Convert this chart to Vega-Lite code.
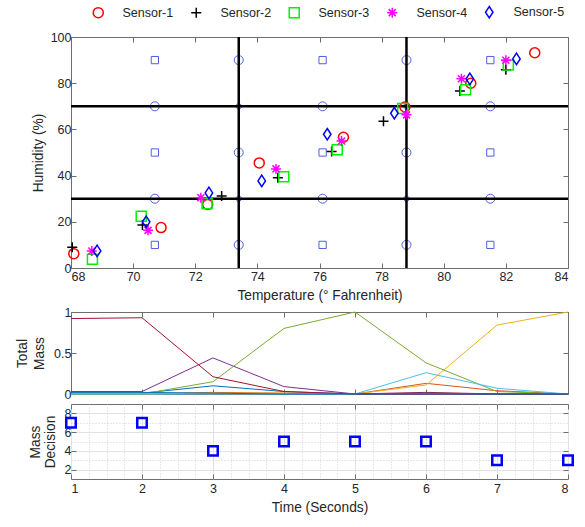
{
  "$schema": "https://vega.github.io/schema/vega-lite/v6.json",
  "padding": {"left": 15, "top": 5, "right": 5, "bottom": 5},
  "background": "white",
  "spacing": 2,
  "config": {
    "font": "Liberation Sans",
    "view": {"stroke": "#6e6e6e", "strokeWidth": 1},
    "axis": {
      "domain": false,
      "tickColor": "#6e6e6e",
      "tickSize": -5,
      "labelFontSize": 12.5,
      "labelColor": "#262626",
      "titleFontSize": 13.75,
      "titleFontWeight": "normal",
      "titleColor": "#262626",
      "grid": false
    }
  },
  "resolve": {"scale": {"color": "independent", "shape": "independent"}},
  "datasets": {
    "sensors": [
      {"sensor": "Sensor-1", "temp": 68.09, "hum": 6.2},
      {"sensor": "Sensor-1", "temp": 70.9, "hum": 17.5},
      {"sensor": "Sensor-1", "temp": 72.4, "hum": 27.5},
      {"sensor": "Sensor-1", "temp": 74.06, "hum": 45.5},
      {"sensor": "Sensor-1", "temp": 76.77, "hum": 56.6},
      {"sensor": "Sensor-1", "temp": 78.75, "hum": 69.7},
      {"sensor": "Sensor-1", "temp": 80.87, "hum": 80.0},
      {"sensor": "Sensor-1", "temp": 82.93, "hum": 93.2},
      {"sensor": "Sensor-2", "temp": 68.04, "hum": 9.0},
      {"sensor": "Sensor-2", "temp": 70.3, "hum": 18.6},
      {"sensor": "Sensor-2", "temp": 72.85, "hum": 31.2},
      {"sensor": "Sensor-2", "temp": 74.66, "hum": 39.1},
      {"sensor": "Sensor-2", "temp": 76.39, "hum": 50.4},
      {"sensor": "Sensor-2", "temp": 78.06, "hum": 63.5},
      {"sensor": "Sensor-2", "temp": 80.52, "hum": 76.6},
      {"sensor": "Sensor-2", "temp": 82.0, "hum": 85.8},
      {"sensor": "Sensor-3", "temp": 68.69, "hum": 3.8},
      {"sensor": "Sensor-3", "temp": 70.26, "hum": 22.4},
      {"sensor": "Sensor-3", "temp": 72.38, "hum": 27.8},
      {"sensor": "Sensor-3", "temp": 74.85, "hum": 39.5},
      {"sensor": "Sensor-3", "temp": 76.57, "hum": 51.2},
      {"sensor": "Sensor-3", "temp": 78.68, "hum": 69.0},
      {"sensor": "Sensor-3", "temp": 80.7, "hum": 77.2},
      {"sensor": "Sensor-3", "temp": 82.08, "hum": 87.9},
      {"sensor": "Sensor-4", "temp": 68.67, "hum": 7.4},
      {"sensor": "Sensor-4", "temp": 70.48, "hum": 16.3},
      {"sensor": "Sensor-4", "temp": 72.18, "hum": 30.4},
      {"sensor": "Sensor-4", "temp": 74.6, "hum": 42.9},
      {"sensor": "Sensor-4", "temp": 76.71, "hum": 55.0},
      {"sensor": "Sensor-4", "temp": 78.8, "hum": 66.3},
      {"sensor": "Sensor-4", "temp": 80.57, "hum": 81.9},
      {"sensor": "Sensor-4", "temp": 82.0, "hum": 89.9},
      {"sensor": "Sensor-5", "temp": 68.84, "hum": 7.4},
      {"sensor": "Sensor-5", "temp": 70.42, "hum": 20.0},
      {"sensor": "Sensor-5", "temp": 72.44, "hum": 32.5},
      {"sensor": "Sensor-5", "temp": 74.14, "hum": 37.7},
      {"sensor": "Sensor-5", "temp": 76.25, "hum": 57.9},
      {"sensor": "Sensor-5", "temp": 78.41, "hum": 67.0},
      {"sensor": "Sensor-5", "temp": 80.84, "hum": 81.9},
      {"sensor": "Sensor-5", "temp": 82.34, "hum": 90.5}
    ],
    "grid": [
      {"gx": 70.7, "gy": 90, "m": "square"}, {"gx": 70.7, "gy": 70, "m": "circle"}, {"gx": 70.7, "gy": 50, "m": "square"}, {"gx": 70.7, "gy": 30, "m": "circle"}, {"gx": 70.7, "gy": 10, "m": "square"},
      {"gx": 73.4, "gy": 90, "m": "circle"}, {"gx": 73.4, "gy": 70, "m": "diamond"}, {"gx": 73.4, "gy": 50, "m": "circle"}, {"gx": 73.4, "gy": 30, "m": "diamond"}, {"gx": 73.4, "gy": 10, "m": "circle"},
      {"gx": 76.1, "gy": 90, "m": "square"}, {"gx": 76.1, "gy": 70, "m": "circle"}, {"gx": 76.1, "gy": 50, "m": "square"}, {"gx": 76.1, "gy": 30, "m": "circle"}, {"gx": 76.1, "gy": 10, "m": "square"},
      {"gx": 78.8, "gy": 90, "m": "circle"}, {"gx": 78.8, "gy": 70, "m": "diamond"}, {"gx": 78.8, "gy": 50, "m": "circle"}, {"gx": 78.8, "gy": 30, "m": "diamond"}, {"gx": 78.8, "gy": 10, "m": "circle"},
      {"gx": 81.5, "gy": 90, "m": "square"}, {"gx": 81.5, "gy": 70, "m": "circle"}, {"gx": 81.5, "gy": 50, "m": "square"}, {"gx": 81.5, "gy": 30, "m": "circle"}, {"gx": 81.5, "gy": 10, "m": "square"}
    ],
    "vlines": [{"vx": 73.4}, {"vx": 78.8}],
    "hlines": [{"hy": 30}, {"hy": 70}],
    "mass": [
      {"c": "1", "t": 1, "m": 0.01}, {"c": "1", "t": 2, "m": 0.01}, {"c": "1", "t": 3, "m": 0.10}, {"c": "1", "t": 4, "m": 0.03}, {"c": "1", "t": 5, "m": 0.0}, {"c": "1", "t": 6, "m": 0.0}, {"c": "1", "t": 7, "m": 0.0}, {"c": "1", "t": 8, "m": 0.0},
      {"c": "2", "t": 1, "m": 0.0}, {"c": "2", "t": 2, "m": 0.0}, {"c": "2", "t": 3, "m": 0.02}, {"c": "2", "t": 4, "m": 0.01}, {"c": "2", "t": 5, "m": 0.0}, {"c": "2", "t": 6, "m": 0.13}, {"c": "2", "t": 7, "m": 0.04}, {"c": "2", "t": 8, "m": 0.0},
      {"c": "3", "t": 1, "m": 0.0}, {"c": "3", "t": 2, "m": 0.0}, {"c": "3", "t": 3, "m": 0.01}, {"c": "3", "t": 4, "m": 0.01}, {"c": "3", "t": 5, "m": 0.0}, {"c": "3", "t": 6, "m": 0.11}, {"c": "3", "t": 7, "m": 0.84}, {"c": "3", "t": 8, "m": 1.0},
      {"c": "4", "t": 1, "m": 0.03}, {"c": "4", "t": 2, "m": 0.03}, {"c": "4", "t": 3, "m": 0.44}, {"c": "4", "t": 4, "m": 0.09}, {"c": "4", "t": 5, "m": 0.0}, {"c": "4", "t": 6, "m": 0.0}, {"c": "4", "t": 7, "m": 0.0}, {"c": "4", "t": 8, "m": 0.0},
      {"c": "5", "t": 1, "m": 0.0}, {"c": "5", "t": 2, "m": 0.0}, {"c": "5", "t": 3, "m": 0.15}, {"c": "5", "t": 4, "m": 0.80}, {"c": "5", "t": 5, "m": 1.0}, {"c": "5", "t": 6, "m": 0.38}, {"c": "5", "t": 7, "m": 0.03}, {"c": "5", "t": 8, "m": 0.0},
      {"c": "6", "t": 1, "m": 0.0}, {"c": "6", "t": 2, "m": 0.0}, {"c": "6", "t": 3, "m": 0.0}, {"c": "6", "t": 4, "m": 0.0}, {"c": "6", "t": 5, "m": 0.0}, {"c": "6", "t": 6, "m": 0.26}, {"c": "6", "t": 7, "m": 0.07}, {"c": "6", "t": 8, "m": 0.0},
      {"c": "7", "t": 1, "m": 0.92}, {"c": "7", "t": 2, "m": 0.93}, {"c": "7", "t": 3, "m": 0.21}, {"c": "7", "t": 4, "m": 0.03}, {"c": "7", "t": 5, "m": 0.0}, {"c": "7", "t": 6, "m": 0.02}, {"c": "7", "t": 7, "m": 0.0}, {"c": "7", "t": 8, "m": 0.0},
      {"c": "8", "t": 1, "m": 0.02}, {"c": "8", "t": 2, "m": 0.02}, {"c": "8", "t": 3, "m": 0.01}, {"c": "8", "t": 4, "m": 0.0}, {"c": "8", "t": 5, "m": 0.0}, {"c": "8", "t": 6, "m": 0.01}, {"c": "8", "t": 7, "m": 0.0}, {"c": "8", "t": 8, "m": 0.0}
    ],
    "decision": [
      {"t": 1, "d": 7}, {"t": 2, "d": 7}, {"t": 3, "d": 4}, {"t": 4, "d": 5},
      {"t": 5, "d": 5}, {"t": 6, "d": 5}, {"t": 7, "d": 3}, {"t": 8, "d": 3}
    ]
  },
  "vconcat": [
    {
      "width": 497,
      "height": 231,
      "layer": [
        {
          "data": {"name": "grid"},
          "transform": [{"filter": "datum.m === 'square'"}],
          "mark": {"type": "point", "shape": "square", "size": 53, "color": "#4f5fdc", "strokeWidth": 1, "filled": false, "opacity": 1},
          "encoding": {
            "x": {"field": "gx", "type": "quantitative", "scale": {"domain": [68, 84], "nice": false, "zero": false},
                  "axis": {"orient": "bottom", "values": [68, 70, 72, 74, 76, 78, 80, 82, 84], "labelPadding": 7, "titlePadding": 6, "title": "Temperature (° Fahrenheit)"}},
            "y": {"field": "gy", "type": "quantitative", "scale": {"domain": [0, 100], "nice": false},
                  "axis": {"orient": "left", "values": [0, 20, 40, 60, 80, 100], "labelPadding": 5, "titlePadding": 5, "title": "Humidity (%)"}}
          }
        },
        {
          "data": {"name": "grid"},
          "transform": [{"filter": "datum.m === 'circle'"}],
          "mark": {"type": "point", "shape": "circle", "size": 81, "color": "#4f5fdc", "strokeWidth": 1, "filled": false, "opacity": 1},
          "encoding": {
            "x": {"field": "gx", "type": "quantitative", "axis": {"orient": "top", "values": [68, 70, 72, 74, 76, 78, 80, 82, 84], "labels": false, "title": null, "minExtent": 0}},
            "y": {"field": "gy", "type": "quantitative", "axis": {"orient": "right", "values": [0, 20, 40, 60, 80, 100], "labels": false, "title": null, "minExtent": 0}}
          }
        },
        {
          "data": {"name": "grid"},
          "transform": [{"filter": "datum.m === 'diamond'"}],
          "mark": {"type": "point", "shape": "diamond", "size": 53, "color": "#4f5fdc", "strokeWidth": 1, "filled": false, "opacity": 1},
          "encoding": {
            "x": {"field": "gx", "type": "quantitative", "axis": null},
            "y": {"field": "gy", "type": "quantitative", "axis": null}
          }
        },
        {
          "data": {"name": "vlines"},
          "mark": {"type": "rule", "color": "black", "strokeWidth": 2.5},
          "encoding": {"x": {"field": "vx", "type": "quantitative", "axis": null}}
        },
        {
          "data": {"name": "hlines"},
          "mark": {"type": "rule", "color": "black", "strokeWidth": 2.5},
          "encoding": {"y": {"field": "hy", "type": "quantitative", "axis": null}}
        },
        {
          "data": {"name": "sensors"},
          "mark": {"type": "point", "filled": false, "strokeWidth": 1.5, "size": 100, "opacity": 1},
          "encoding": {
            "x": {"field": "temp", "type": "quantitative", "axis": null},
            "y": {"field": "hum", "type": "quantitative", "axis": null},
            "color": {"field": "sensor", "type": "nominal",
                      "scale": {"domain": ["Sensor-1", "Sensor-2", "Sensor-3", "Sensor-4", "Sensor-5"], "range": ["#ff0000", "#000000", "#00f000", "#ff00ff", "#0000ff"]},
                      "legend": {"orient": "none", "legendX": 21, "legendY": -31, "direction": "horizontal", "title": null, "padding": 0,
                                 "labelFontSize": 12.5, "labelColor": "#262626", "labelOffset": 18, "columnPadding": 14, "symbolStrokeWidth": 1.5, "symbolSize": 100}},
            "shape": {"field": "sensor", "type": "nominal",
                      "scale": {"domain": ["Sensor-1", "Sensor-2", "Sensor-3", "Sensor-4", "Sensor-5"],
                                "range": ["circle", "M-1,0L1,0M0,-1L0,1", "square", "M-1,0L1,0M0,-1L0,1M-0.7,-0.7L0.7,0.7M-0.7,0.7L0.7,-0.7", "M0,-1.15L0.75,0L0,1.15L-0.75,0Z"]}}
          }
        }
      ],
      "resolve": {"axis": {"x": "independent", "y": "independent"}}
    },
    {
      "width": 497,
      "height": 82,
      "data": {"name": "mass"},
      "layer": [
        {
          "mark": {"type": "line", "strokeWidth": 1},
          "encoding": {
            "x": {"field": "t", "type": "quantitative", "scale": {"domain": [1, 8], "nice": false, "zero": false},
                  "axis": {"orient": "bottom", "values": [1, 2, 3, 4, 5, 6, 7, 8], "labels": false, "title": null, "minExtent": 0}},
            "y": {"field": "m", "type": "quantitative", "scale": {"domain": [0, 1], "nice": false},
                  "axis": {"orient": "left", "values": [0, 0.5, 1], "format": "~g", "labelPadding": 5, "titlePadding": 7, "titleLineHeight": 17, "title": ["Total", "Mass"]}},
            "color": {"field": "c", "type": "nominal",
                      "scale": {"domain": ["1", "2", "3", "4", "5", "6", "7", "8"], "range": ["#0072BD", "#D95319", "#EDB120", "#7E2F8E", "#77AC30", "#4DBEEE", "#A2142F", "#0072BD"]},
                      "legend": null}
          }
        },
        {
          "mark": {"type": "line", "strokeWidth": 1, "opacity": 0},
          "encoding": {
            "x": {"field": "t", "type": "quantitative", "axis": {"orient": "top", "values": [1, 2, 3, 4, 5, 6, 7, 8], "labels": false, "title": null, "minExtent": 0}},
            "y": {"field": "m", "type": "quantitative", "axis": {"orient": "right", "values": [0, 0.5, 1], "labels": false, "title": null, "minExtent": 0}},
            "detail": {"field": "c"}
          }
        }
      ],
      "resolve": {"axis": {"x": "independent", "y": "independent"}}
    },
    {
      "width": 497,
      "height": 75,
      "data": {"name": "decision"},
      "layer": [
        {
          "mark": {"type": "point", "opacity": 0},
          "encoding": {
            "x": {"field": "t", "type": "quantitative", "scale": {"domain": [1, 8], "nice": false, "zero": false},
                  "axis": {"orient": "bottom", "values": [1.25, 1.5, 1.75, 2.25, 2.5, 2.75, 3.25, 3.5, 3.75, 4.25, 4.5, 4.75, 5.25, 5.5, 5.75, 6.25, 6.5, 6.75, 7.25, 7.5, 7.75],
                           "labels": false, "ticks": false, "title": null, "grid": true, "gridColor": "#d0d0d0", "gridDash": [1, 2], "minExtent": 0}},
            "y": {"field": "d", "type": "quantitative", "scale": {"domain": [1, 9], "nice": false, "zero": false},
                  "axis": {"orient": "left", "values": [3, 5, 7], "labels": false, "ticks": false, "title": null, "grid": true, "gridColor": "#d0d0d0", "gridDash": [1, 2], "minExtent": 0}}
          }
        },
        {
          "mark": {"type": "point", "opacity": 0},
          "encoding": {
            "x": {"field": "t", "type": "quantitative",
                  "axis": {"orient": "bottom", "values": [1, 2, 3, 4, 5, 6, 7, 8], "labelPadding": 8, "titlePadding": 6, "title": "Time (Seconds)", "grid": true, "gridColor": "#e2e2e2"}},
            "y": {"field": "d", "type": "quantitative",
                  "axis": {"orient": "left", "values": [2, 4, 6, 8], "labelPadding": 5, "titlePadding": 7, "titleLineHeight": 15, "title": ["Mass", "Decision"], "grid": true, "gridColor": "#e2e2e2"}}
          }
        },
        {
          "mark": {"type": "point", "shape": "square", "size": 90, "strokeWidth": 2.5, "color": "#0000ff", "filled": false, "opacity": 1},
          "encoding": {
            "x": {"field": "t", "type": "quantitative", "axis": {"orient": "top", "values": [1, 2, 3, 4, 5, 6, 7, 8], "labels": false, "title": null, "minExtent": 0}},
            "y": {"field": "d", "type": "quantitative", "axis": {"orient": "right", "values": [2, 4, 6, 8], "labels": false, "title": null, "minExtent": 0}}
          }
        }
      ],
      "resolve": {"axis": {"x": "independent", "y": "independent"}}
    }
  ]
}
